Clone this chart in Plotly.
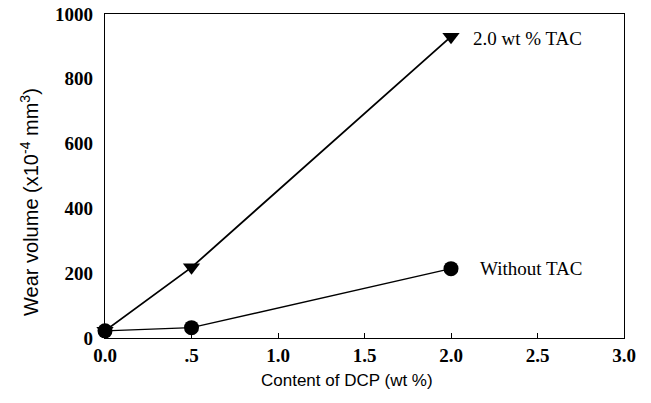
import plotly.graph_objects as go

dcp = [0.0, 0.5, 2.0]
with_tac = [22, 218, 930]
without_tac = [22, 32, 214]
x_ticks = [0.0, 0.5, 1.0, 1.5, 2.0, 2.5, 3.0]
x_ticklabels = ["0.0", ".5", "1.0", "1.5", "2.0", "2.5", "3.0"]
y_ticks = [0, 200, 400, 600, 800, 1000]

serif = "Liberation Serif, Times New Roman, serif"
sans = "Liberation Sans, Arial, sans-serif"

fig = go.Figure()
fig.add_trace(go.Scatter(x=dcp, y=with_tac, mode="lines+markers",
                         line=dict(color="black", width=1.8),
                         marker=dict(symbol="triangle-down", size=15, color="black"),
                         cliponaxis=False, showlegend=False))
fig.add_trace(go.Scatter(x=dcp, y=without_tac, mode="lines+markers",
                         line=dict(color="black", width=1.4),
                         marker=dict(symbol="circle", size=15, color="black"),
                         cliponaxis=False, showlegend=False))

fig.add_annotation(x=dcp[-1], y=with_tac[-1], text="2.0 wt % TAC", showarrow=False,
                   xanchor="left", xshift=20, yshift=-2,
                   font=dict(family=serif, size=19, color="black"))
fig.add_annotation(x=dcp[-1], y=without_tac[-1], text="Without TAC", showarrow=False,
                   xanchor="left", xshift=27, yshift=0,
                   font=dict(family=serif, size=19, color="black"))

# axis titles placed as annotations (the originals sit slightly off-centre)
fig.add_annotation(xref="paper", yref="paper", x=0, y=0.42, xshift=-75,
                   text="Wear volume (x10<sup>-4</sup> mm<sup>3</sup>)", textangle=-90,
                   showarrow=False, xanchor="center", yanchor="middle",
                   font=dict(family=sans, size=20, color="black"))
fig.add_annotation(xref="paper", yref="paper", x=0.466, y=0, yshift=-42,
                   text="Content of DCP (wt %)",
                   showarrow=False, xanchor="center", yanchor="middle",
                   font=dict(family=sans, size=17, color="black"))

fig.update_layout(
    width=651, height=403,
    margin=dict(l=105, r=27, t=14, b=65),
    plot_bgcolor="white", paper_bgcolor="white",
)
fig.update_xaxes(range=[0, 3], tickvals=x_ticks, ticktext=x_ticklabels,
                 ticks="inside", ticklen=5, tickcolor="black", automargin=False,
                 showgrid=False, zeroline=False, showline=True, linecolor="black",
                 linewidth=1.4, mirror=True, ticklabeloverflow="allow",
                 tickfont=dict(family=serif, size=19, color="black", weight="bold"))
fig.update_yaxes(range=[0, 1000], tickvals=y_ticks, automargin=False,
                 ticks="", showgrid=False, zeroline=False, showline=True,
                 linecolor="black", linewidth=1.4, mirror=True, ticklabelstandoff=7,
                 ticklabeloverflow="allow",
                 tickfont=dict(family=serif, size=19, color="black", weight="bold"))

# remove the browser's default 8px body margin so the figure fills the window
fig.write_html("out.html", config={"displayModeBar": False},
               post_script="document.body.style.margin='0';")
